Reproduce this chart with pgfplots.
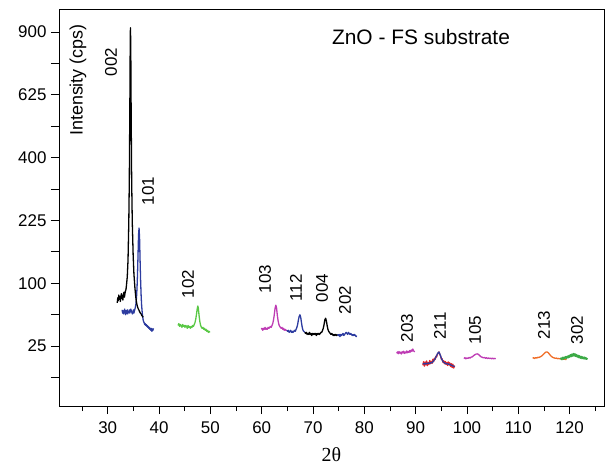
\documentclass[border=0pt]{standalone}
\usepackage{pgfplots}
\pgfplotsset{compat=1.18}
\usepackage{fontspec}
\setmainfont{Liberation Sans}
\newfontfamily\serifont{Liberation Serif}
\definecolor{cblue}{RGB}{45,60,160}
\definecolor{cgreenA}{RGB}{90,200,70}
\definecolor{cmag}{RGB}{190,60,180}
\definecolor{cred}{RGB}{230,40,40}
\definecolor{corange}{RGB}{240,110,40}
\definecolor{cgreenB}{RGB}{60,170,70}
\begin{document}
\begin{tikzpicture}
\begin{axis}[
  scale only axis, width=545bp, height=397bp,
  xmin=20.5, xmax=126.7, ymin=0.22, ymax=31.83,
  y filter/.expression={sqrt(y)},
  xtick={30,40,...,120}, minor xtick={25,35,...,125},
  ytick={2.5,5,7.5,10,12.5,15,17.5,20,22.5,25,27.5,30},
  yticklabels={,25,,100,,225,,400,,625,,900},
  tick align=outside, tick pos=left,
  major tick length=8bp, minor tick length=5bp,
  ticklabel style={font=\fontsize{17}{19}\selectfont},
  xticklabel style={yshift=-4bp},
  yticklabel style={xshift=-1bp},
  /pgf/number format/assume math mode=true,
  xlabel={\serifont 2θ}, xlabel style={font=\fontsize{20}{22}\selectfont, yshift=-7bp},
  axis line style={line width=0.8bp},
  every tick/.style={black, line width=0.8bp},
  every axis plot/.append style={line width=1.3bp, line join=round},
]
% 101 (blue)
\addplot[cblue] coordinates {(32.8,62)(32.9,58)(33.0,61)(33.1,57)(33.2,60)(33.3,63)(33.4,59)(33.5,56)(33.6,61)(33.7,58)(33.8,62)(33.9,57)(34.0,60)(34.1,59)(34.2,62)(34.3,58)(34.4,61)(34.5,63)(34.6,60)(34.7,59)(34.8,57)(34.9,60)(35.0,62)(35.1,58)(35.2,61)(35.3,63)(35.4,66)(35.5,70)(35.6,78)(35.7,92)(35.8,115)(35.9,150)(36.0,192)(36.1,207)(36.2,185)(36.3,140)(36.4,105)(36.5,82)(36.6,68)(36.7,60)(36.8,54)(36.9,50)(37.0,48)(37.1,47)(37.2,45)(37.3,46)(37.4,44)(37.5,45)(37.6,43)(37.7,44)(37.8,42)(37.9,43)(38.0,41)(38.1,42)(38.2,40)(38.3,41)(38.4,39)(38.5,41)(38.6,38)(38.7,40)(38.8,39)(38.9,41)};
% 002 (black)
\addplot[black] coordinates {(31.85,71)(31.95,78)(32.05,74)(32.15,82)(32.25,76)(32.35,80)(32.45,73)(32.55,79)(32.65,84)(32.75,77)(32.85,81)(32.95,75)(33.05,83)(33.15,86)(33.25,79)(33.35,84)(33.45,88)(33.55,90)(33.65,97)(33.8,110)(33.95,140)(34.1,220)(34.2,330)(34.3,560)(34.38,850)(34.42,920)(34.48,850)(34.56,560)(34.66,330)(34.78,220)(34.95,150)(35.1,115)(35.3,92)(35.45,80)(35.6,72)(35.75,67)(35.9,64)(36.05,62)(36.2,60)(36.35,58)(36.5,57)(36.65,55)(36.8,54)(36.9,53)};
% 102 (green)
\addplot[cgreenA] coordinates {(43.7,44)(43.85,46)(44.0,43)(44.15,45)(44.3,44)(44.45,42)(44.6,45)(44.75,43)(44.9,44)(45.05,42)(45.2,44)(45.35,43)(45.5,41)(45.65,44)(45.8,42)(45.95,43)(46.1,41)(46.25,43)(46.4,42)(46.55,44)(46.7,43)(46.85,45)(47.0,47)(47.15,51)(47.3,57)(47.45,64)(47.55,67)(47.65,64)(47.8,55)(47.95,48)(48.1,44)(48.25,42)(48.4,41)(48.55,42)(48.7,40)(48.85,41)(49.0,39)(49.15,40)(49.3,38)(49.45,39)(49.6,37)(49.75,38)(49.9,37)};
% 103 (magenta)
\addplot[cmag] coordinates {(59.9,40)(60.05,41)(60.2,39)(60.35,41)(60.5,40)(60.65,42)(60.8,40)(60.95,41)(61.1,40)(61.25,42)(61.4,41)(61.55,42)(61.7,43)(61.85,42)(62.0,44)(62.15,46)(62.3,50)(62.45,56)(62.6,64)(62.75,68)(62.9,64)(63.05,55)(63.2,49)(63.35,45)(63.5,43)(63.65,42)(63.8,41)(63.95,42)(64.1,40)(64.25,41)(64.4,39)(64.55,40)(64.7,39)(64.9,39)};
% 112 (blue)
\addplot[cblue] coordinates {(64.9,39)(65.05,38)(65.2,39)(65.35,37)(65.5,38)(65.65,39)(65.8,37)(65.95,38)(66.1,37)(66.25,38)(66.4,39)(66.55,38)(66.7,40)(66.85,42)(67.0,45)(67.15,50)(67.3,54)(67.45,56)(67.6,53)(67.75,47)(67.9,42)(68.05,39)(68.2,38)(68.4,37)};
% 004 (black)
\addplot[black] coordinates {(68.4,37)(68.55,36)(68.7,37)(68.85,35)(69.0,36)(69.15,35)(69.3,37)(69.45,35)(69.6,36)(69.75,34)(69.9,36)(70.05,35)(70.2,36)(70.35,35)(70.5,36)(70.65,34)(70.8,36)(70.95,35)(71.1,36)(71.25,35)(71.4,36)(71.55,37)(71.7,37)(71.85,39)(72.0,41)(72.15,45)(72.3,50)(72.45,52)(72.6,49)(72.75,44)(72.9,40)(73.05,38)(73.2,37)(73.35,36)(73.5,35)(73.65,36)(73.8,35)(73.95,34)(74.1,35)(74.25,34)(74.4,35)(74.6,34)(74.8,35)};
% 202 (blue)
\addplot[cblue] coordinates {(74.8,35)(74.95,34)(75.1,35)(75.25,33)(75.4,35)(75.55,34)(75.7,35)(75.85,36)(76.0,34)(76.15,35)(76.3,36)(76.45,37)(76.6,36)(76.75,35)(76.9,37)(77.05,36)(77.2,35)(77.35,36)(77.5,35)(77.65,34)(77.8,35)(77.95,34)(78.1,35)(78.25,34)(78.4,33)(78.5,34)};
% 203 (magenta)
\addplot[cmag] coordinates {(86.3,19.5)(86.45,20.5)(86.6,19.2)(86.75,20.8)(86.9,19.6)(87.05,20.3)(87.2,19.0)(87.35,20.6)(87.5,19.8)(87.65,21.0)(87.8,19.4)(87.95,20.4)(88.1,19.7)(88.25,21.2)(88.4,19.9)(88.55,20.8)(88.7,20.1)(88.85,21.5)(89.0,20.4)(89.15,21.9)(89.3,21.0)(89.45,22.6)(89.6,21.3)(89.8,20.5)};
% 211 (red, noisy)
\addplot[cred] coordinates {(91.4,12.0)(91.55,14.0)(91.7,11.5)(91.85,13.8)(92.0,12.2)(92.15,14.5)(92.3,11.8)(92.45,13.5)(92.6,12.5)(92.75,14.8)(92.9,12.9)(93.05,14.2)(93.2,13.1)(93.35,15.5)(93.5,14.0)(93.65,16.2)(93.8,15.4)(93.95,17.5)(94.1,17.0)(94.25,19.2)(94.4,19.5)(94.55,20.5)(94.7,18.6)(94.85,17.8)(95.0,15.6)(95.15,15.9)(95.3,13.8)(95.45,14.6)(95.6,12.8)(95.75,14.2)(95.9,12.5)(96.05,13.6)(96.2,11.9)(96.35,13.9)(96.5,12.2)(96.65,13.4)(96.8,11.3)(96.95,12.9)(97.1,10.8)(97.25,12.6)(97.4,10.5)(97.6,11.8)};
% 211 (blue)
\addplot[cblue] coordinates {(91.4,12.8)(91.6,13.0)(91.8,12.6)(92.0,13.2)(92.2,12.8)(92.4,13.0)(92.6,13.3)(92.8,13.0)(93.0,13.6)(93.2,13.4)(93.4,14.2)(93.6,15.0)(93.8,16.0)(94.0,17.4)(94.2,18.8)(94.4,20.0)(94.55,20.4)(94.7,19.2)(94.9,17.2)(95.1,15.5)(95.3,14.3)(95.5,13.6)(95.7,13.2)(95.9,13.0)(96.1,12.7)(96.3,12.8)(96.5,12.4)(96.7,12.5)(96.9,12.0)(97.1,11.9)(97.3,11.6)(97.6,11.3)};
% 105 (magenta)
\addplot[cmag] coordinates {(99.4,16.0)(99.6,16.6)(99.8,15.8)(100.0,16.4)(100.2,16.1)(100.4,16.7)(100.6,16.2)(100.8,16.9)(101.0,17.0)(101.2,17.6)(101.4,18.2)(101.6,18.6)(101.8,19.0)(102.0,19.1)(102.2,18.8)(102.4,18.2)(102.6,17.5)(102.8,17.0)(103.0,16.8)(103.2,16.4)(103.4,16.7)(103.6,16.2)(103.8,16.5)(104.0,16.0)(104.2,16.4)(104.4,15.9)(104.6,16.3)(104.8,15.8)(105.0,16.2)(105.2,15.8)(105.4,16.1)(105.6,15.9)};
% 213 (orange)
\addplot[corange] coordinates {(112.8,16.2)(113.0,16.5)(113.2,16.0)(113.4,16.6)(113.6,16.3)(113.8,16.8)(114.0,16.6)(114.2,17.0)(114.4,17.3)(114.6,17.8)(114.8,18.4)(115.0,19.2)(115.2,19.9)(115.4,20.4)(115.6,20.5)(115.8,20.0)(116.0,19.2)(116.2,18.3)(116.4,17.5)(116.6,17.0)(116.8,16.6)(117.0,16.4)(117.2,16.1)(117.4,16.3)(117.6,15.9)(117.8,16.1)(118.0,15.8)(118.2,15.9)(118.4,15.6)(118.6,15.8)(118.8,15.5)(119.0,15.6)(119.2,15.4)(119.4,15.5)};
% 302 (green)
\addplot[cgreenB] coordinates {(118.2,15.5)(118.35,16.4)(118.5,15.2)(118.65,16.8)(118.8,15.6)(118.95,17.0)(119.1,15.9)(119.25,17.3)(119.4,16.1)(119.55,17.6)(119.7,16.4)(119.85,18.0)(120.0,16.8)(120.15,18.6)(120.3,17.2)(120.45,19.0)(120.6,17.5)(120.75,19.4)(120.9,17.6)(121.05,19.2)(121.2,17.3)(121.35,18.7)(121.5,16.9)(121.65,18.2)(121.8,16.5)(121.95,17.8)(122.1,16.2)(122.25,17.4)(122.4,15.9)(122.55,17.1)(122.7,15.8)(122.85,16.9)(123.0,15.6)(123.15,16.7)(123.3,15.5)(123.5,16.2)};
% annotations
\node[rotate=90, font=\fontsize{18}{20}\selectfont] at (rel axis cs:0.0349,0.821) {Intensity (cps)};
\node[font=\fontsize{21}{24}\selectfont] at (rel axis cs:0.6642,0.9295) {ZnO - FS substrate};
\begin{scope}[every node/.style={rotate=90, font=\fontsize{17}{19}\selectfont, inner sep=0pt}]
\node at (rel axis cs:0.0954,0.8665) {002};
\node at (rel axis cs:0.1633,0.5416) {101};
\node at (rel axis cs:0.2367,0.3073) {102};
\node at (rel axis cs:0.378,0.320) {103};
\node at (rel axis cs:0.4349,0.2972) {112};
\node at (rel axis cs:0.4826,0.2972) {004};
\node at (rel axis cs:0.5248,0.267) {202};
\node at (rel axis cs:0.6385,0.1965) {203};
\node at (rel axis cs:0.699,0.2015) {211};
\node at (rel axis cs:0.7633,0.1914) {105};
\node at (rel axis cs:0.8899,0.204) {213};
\node at (rel axis cs:0.9505,0.1914) {302};
\end{scope}
\end{axis}
\pgfresetboundingbox
\path[use as bounding box] (current axis.south west) ++(-59bp,-62bp) rectangle ++(611bp,468bp);
\end{tikzpicture}
\end{document}
